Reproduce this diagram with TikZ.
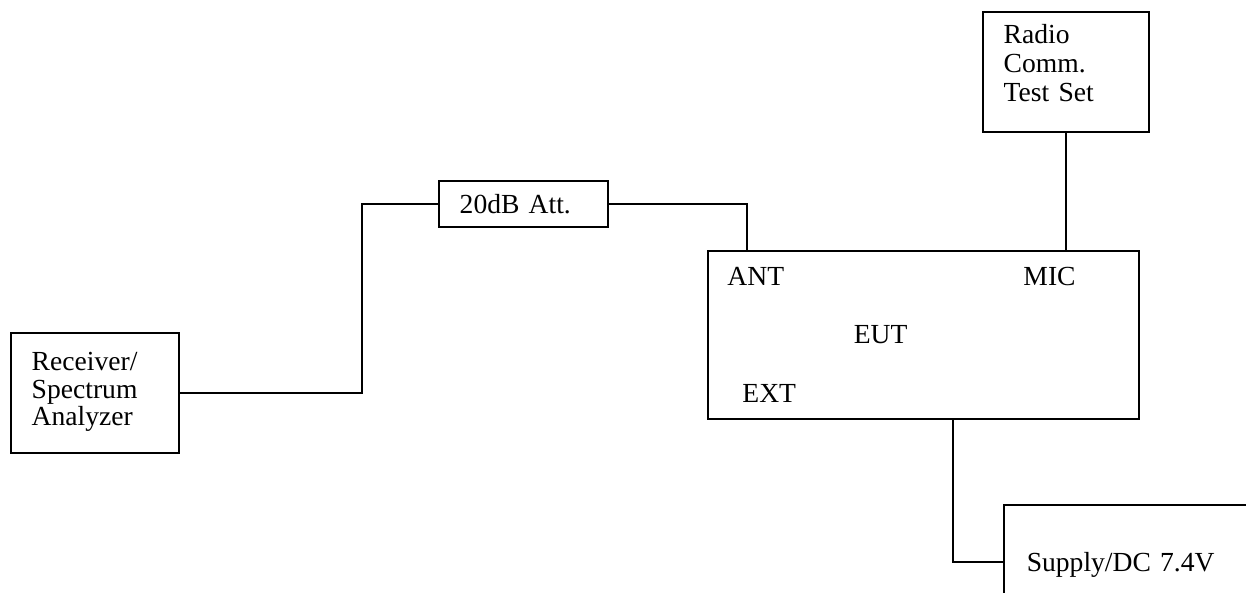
\documentclass[tikz,border=0pt]{standalone}
\usepackage{fontspec}
\setmainfont{Liberation Serif}
\tikzset{
	unit/.style={draw, line width=0.7pt, anchor=north west, align=left, inner ysep=0pt, font=\fontsize{12pt}{12pt}\selectfont},
	port/.style={anchor=base west, inner sep=0pt, font=\fontsize{12pt}{12pt}\selectfont},
	wire/.style={line width=0.7pt}
}
\begin{document}
\begin{tikzpicture}[x=0.435pt, y=-0.435pt]
	\useasboundingbox (0,0) rectangle (1246,592);
	\clip (0,0) rectangle (1246,592);
	% boxes
	\node[unit, inner xsep=9.1pt, text width=54.9pt, text height=16.5pt, text depth=35.7pt] (rx) at (10,332) {Receiver/\\Spectrum\\Analyzer};
	\node[unit, inner xsep=9.1pt, text width=55.3pt, text height=14.4pt, text depth=5.7pt] (att) at (438,180) {20dB Att.};
	\node[unit, inner xsep=63.5pt, text width=60.5pt, text height=40.5pt, text depth=32.6pt] (eut) at (707,250) {EUT};
	\node[unit, inner xsep=9.1pt, text width=54pt, text height=13.9pt, text depth=38.3pt, font=\fontsize{12pt}{12.6pt}\selectfont] (radio) at (982,11) {Radio\\Comm.\\Test Set};
	\node[unit, inner xsep=10pt, text width=110pt, text height=29.1pt, text depth=20.4pt] (dc) at (1003,504) {Supply/DC 7.4V};
	% ports of the EUT
	\node[port] (ant) at (727,285) {ANT};
	\node[port] (mic) at (1023,285) {MIC};
	\node[port] (ext) at (742,402) {EXT};
	
	\coordinate (jog) at (362,300);
	\coordinate (antin) at (747,250);
	\coordinate (dcout) at (953,418);
	
	\draw[wire] (rx.east) -- (rx.east -| jog) -- (jog |- att.west) -- (att.west);
	\draw[wire] (att.east) -| (antin);
	\draw[wire] (radio.south) -- (radio.south |- eut.north);
	\draw[wire] (dcout) |- (dc.west);
\end{tikzpicture}
\end{document}
